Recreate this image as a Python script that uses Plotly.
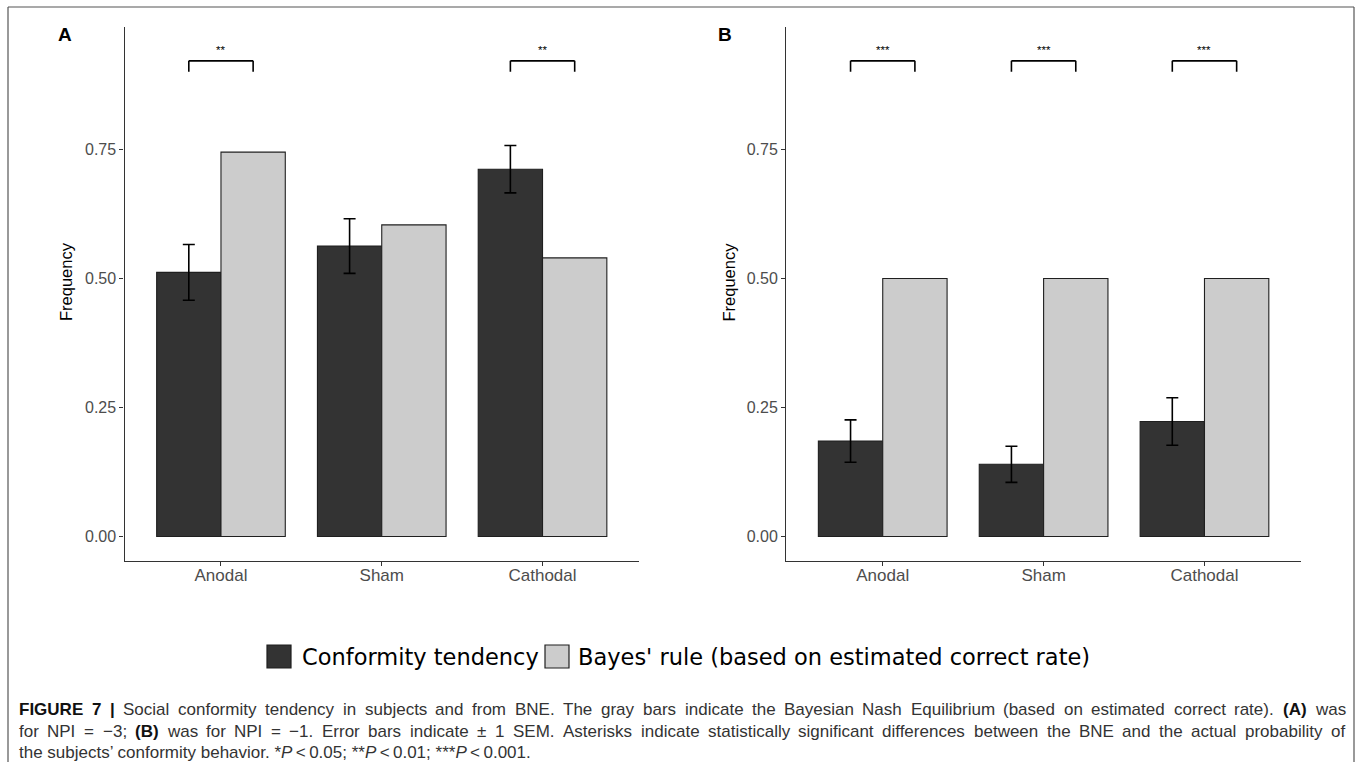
import plotly.graph_objects as go

# ---------------- data ----------------
categories = ["Anodal", "Sham", "Cathodal"]
conf_A = [0.512, 0.563, 0.712]
sem_A = [0.054, 0.053, 0.046]
bayes_A = [0.745, 0.604, 0.540]
conf_B = [0.185, 0.140, 0.223]
sem_B = [0.041, 0.035, 0.046]
bayes_B = [0.500, 0.500, 0.500]
sig_A = ["**", "", "**"]
sig_B = ["***", "***", "***"]
ytick_vals = [0.00, 0.25, 0.50, 0.75]
ytick_text = ["0.00", "0.25", "0.50", "0.75"]
series_names = ["Conformity tendency", "Bayes' rule (based on estimated correct rate)"]
panel_labels = ["A", "B"]
y_title = "Frequency"

caption_line1 = [("FIGURE", "b"), ("7", "b"), ("|", "b"), ("Social", ""), ("conformity", ""),
                 ("tendency", ""), ("in", ""), ("subjects", ""), ("and", ""), ("from", ""),
                 ("BNE.", ""), ("The", ""), ("gray", ""), ("bars", ""), ("indicate", ""),
                 ("the", ""), ("Bayesian", ""), ("Nash", ""), ("Equilibrium", ""),
                 ("(based", ""), ("on", ""), ("estimated", ""), ("correct", ""), ("rate).", ""),
                 ("(A)", "b"), ("was", "")]
caption_line2 = [("for", ""), ("NPI", ""), ("=", ""), ("\u22123;", ""), ("(B)", "b"), ("was", ""),
                 ("for", ""), ("NPI", ""), ("=", ""), ("\u22121.", ""), ("Error", ""), ("bars", ""),
                 ("indicate", ""), ("\u00b1", ""), ("1", ""), ("SEM.", ""), ("Asterisks", ""),
                 ("indicate", ""), ("statistically", ""), ("significant", ""), ("differences", ""),
                 ("between", ""), ("the", ""), ("BNE", ""), ("and", ""), ("the", ""),
                 ("actual", ""), ("probability", ""), ("of", "")]
caption_line3 = ("the subjects\u2019 conformity behavior. *<i>P</i>\u2009&lt;\u20090.05; "
                 "**<i>P</i>\u2009&lt;\u20090.01; ***<i>P</i>\u2009&lt;\u20090.001.")

# ---------------- style ----------------
W, H = 1360, 762
DARK, LIGHT = "#333333", "#CCCCCC"
OUTLINE = "#1f1f1f"
AXIS = "#333333"
TICKFONT = "#4D4D4D"
BARGAP = 0.2
BRACKET_TOP, BRACKET_TIP, STAR_Y = 0.922, 0.901, 0.943
FONT = "Liberation Sans, Arial, sans-serif"
CAP_SIZE = 17

# Arial / Liberation Sans advance widths (1/1000 em), used to justify the caption
REG = {' ': 278, "'": 191, '(': 333, ')': 333, '.': 278, ';': 278, '=': 584, '|': 260,
       '\u2212': 584, '\u00b1': 584, '1': 556, '3': 556, '7': 556,
       'A': 667, 'B': 667, 'E': 667, 'F': 611, 'I': 278, 'N': 722, 'P': 667, 'S': 667,
       'M': 833, 'T': 611, 'G': 778, 'U': 722, 'R': 722,
       'a': 556, 'b': 556, 'c': 500, 'd': 556, 'e': 556, 'f': 278, 'g': 556, 'h': 556,
       'i': 222, 'j': 222, 'k': 500, 'l': 222, 'm': 833, 'n': 556, 'o': 556, 'p': 556,
       'q': 556, 'r': 333, 's': 500, 't': 278, 'u': 556, 'v': 500, 'w': 722, 'x': 500,
       'y': 500, 'z': 500}
BOLD = {'F': 611, 'I': 278, 'G': 778, 'U': 722, 'R': 722, 'E': 667, '7': 556, '|': 280,
        '(': 333, ')': 333, 'A': 722, 'B': 722, ' ': 278}


def word_width(w, style, size):
    tab = BOLD if style == "b" else REG
    return sum(tab.get(ch, REG.get(ch, 556)) for ch in w) * size / 1000.0


def px(x):
    return x / W


def py(y):
    return 1 - y / H


fig = go.Figure()

panels = [
    dict(conf=conf_A, sem=sem_A, bayes=bayes_A, sig=sig_A, xa="x", ya="y",
         xdom=(124.5, 639.0), label_x=65, title_x=66),
    dict(conf=conf_B, sem=sem_B, bayes=bayes_B, sig=sig_B, xa="x2", ya="y2",
         xdom=(786.2, 1301.0), label_x=724.5, title_x=728.5),
]

shapes = []
annotations = []
half = (1 - BARGAP) / 4  # centre offset of each dodged bar

for p in panels:
    fig.add_trace(go.Bar(
        x=categories, y=p["conf"], name=series_names[0],
        marker=dict(color=DARK, line=dict(color=OUTLINE, width=1.1)),
        error_y=dict(type="data", array=p["sem"], color="black", thickness=1.6, width=6),
        xaxis=p["xa"], yaxis=p["ya"], showlegend=False,
    ))
    fig.add_trace(go.Bar(
        x=categories, y=p["bayes"], name=series_names[1],
        marker=dict(color=LIGHT, line=dict(color=OUTLINE, width=1.1)),
        xaxis=p["xa"], yaxis=p["ya"], showlegend=False,
    ))
    for i, s in enumerate(p["sig"]):
        if not s:
            continue
        xl, xr = i - half, i + half
        for (x0, y0, x1, y1) in [(xl, BRACKET_TIP, xl, BRACKET_TOP),
                                 (xl, BRACKET_TOP, xr, BRACKET_TOP),
                                 (xr, BRACKET_TOP, xr, BRACKET_TIP)]:
            shapes.append(dict(type="line", xref=p["xa"], yref=p["ya"],
                               x0=x0, y0=y0, x1=x1, y1=y1,
                               line=dict(color="black", width=1.6)))
        annotations.append(dict(x=i, y=STAR_Y, xref=p["xa"], yref=p["ya"], text=s,
                                showarrow=False, font=dict(size=11.5, color="black", family=FONT)))

axis_common = dict(showline=True, linecolor=AXIS, linewidth=1.3, ticks="outside",
                   ticklen=4, tickwidth=1.1, tickcolor=AXIS, showgrid=False, zeroline=False,
                   fixedrange=True)

ydom = (py(560.5), py(27.3))
yrange = [-0.0465, 0.987]

xaxis_common = dict(type="category", range=[-0.6, 2.6], ticklabelstandoff=-5,
                    tickfont=dict(size=17, color=TICKFONT), **axis_common)
yaxis_common = dict(domain=list(ydom), range=yrange, tickvals=ytick_vals, ticktext=ytick_text,
                    tickfont=dict(size=16, color=TICKFONT), **axis_common)

fig.update_layout(
    width=W, height=H,
    margin=dict(l=0, r=0, t=0, b=0),
    paper_bgcolor="white", plot_bgcolor="white",
    barmode="group", bargap=BARGAP, bargroupgap=0,
    font=dict(family=FONT),
    xaxis=dict(domain=[px(panels[0]["xdom"][0]), px(panels[0]["xdom"][1])], anchor="y",
               **xaxis_common),
    yaxis=dict(anchor="x", **yaxis_common),
    xaxis2=dict(domain=[px(panels[1]["xdom"][0]), px(panels[1]["xdom"][1])], anchor="y2",
                **xaxis_common),
    yaxis2=dict(anchor="x2", **yaxis_common),
)

# panel labels and y titles
for p, lab in zip(panels, panel_labels):
    annotations.append(dict(x=px(p["label_x"]), y=py(35), xref="paper", yref="paper",
                            xanchor="center", yanchor="middle",
                            text="<b>%s</b>" % lab, showarrow=False,
                            font=dict(size=19, color="black", family=FONT)))
    annotations.append(dict(x=px(p["title_x"]), y=py(282), xref="paper", yref="paper",
                            xanchor="center", yanchor="middle",
                            text=y_title, textangle=-90, showarrow=False,
                            font=dict(size=16.5, color="black", family=FONT)))

# custom legend
leg_items = [(267, 300, DARK), (545, 576, LIGHT)]
for (sx, tx, col), name in zip(leg_items, series_names):
    shapes.append(dict(type="rect", xref="paper", yref="paper",
                       x0=px(sx), x1=px(sx + 24), y0=py(668), y1=py(645),
                       fillcolor=col, line=dict(color=OUTLINE, width=1.2)))
    annotations.append(dict(x=px(tx), y=py(657), xref="paper", yref="paper",
                            xanchor="left", yanchor="middle", text=name, showarrow=False,
                            font=dict(size=22.5, color="black", family="DejaVu Sans")))

# outer frame (open at bottom)
FR = "#555555"
for (x0, y0, x1, y1) in [(8, 7, 1354, 7), (8, 7, 8, 762), (1354, 7, 1354, 762)]:
    shapes.append(dict(type="line", xref="paper", yref="paper",
                       x0=px(x0), y0=py(y0), x1=px(x1), y1=py(y1),
                       line=dict(color=FR, width=1.2)))

# caption: lines 1 and 2 justified between x=18 and x=1344
CAP_L, CAP_R = 18, 1344
for yy, tokens in [(709, caption_line1), (731, caption_line2)]:
    widths = [word_width(w, s, CAP_SIZE) for w, s in tokens]
    gap = (CAP_R - CAP_L - sum(widths)) / (len(tokens) - 1)
    x = CAP_L
    for (w, s), ww in zip(tokens, widths):
        txt = "<b>%s</b>" % w if s == "b" else w
        col = "#111111" if s == "b" else "#333333"
        annotations.append(dict(x=px(x), y=py(yy), xref="paper", yref="paper",
                                xanchor="left", yanchor="middle", text=txt, showarrow=False,
                                borderpad=0, font=dict(size=CAP_SIZE, color=col, family=FONT)))
        x += ww + gap
annotations.append(dict(x=px(CAP_L), y=py(752), xref="paper", yref="paper",
                        xanchor="left", yanchor="middle", text=caption_line3, showarrow=False,
                        borderpad=0, font=dict(size=CAP_SIZE, color="#333333", family=FONT)))

fig.update_layout(shapes=shapes, annotations=annotations)
fig.write_html("out.html")
